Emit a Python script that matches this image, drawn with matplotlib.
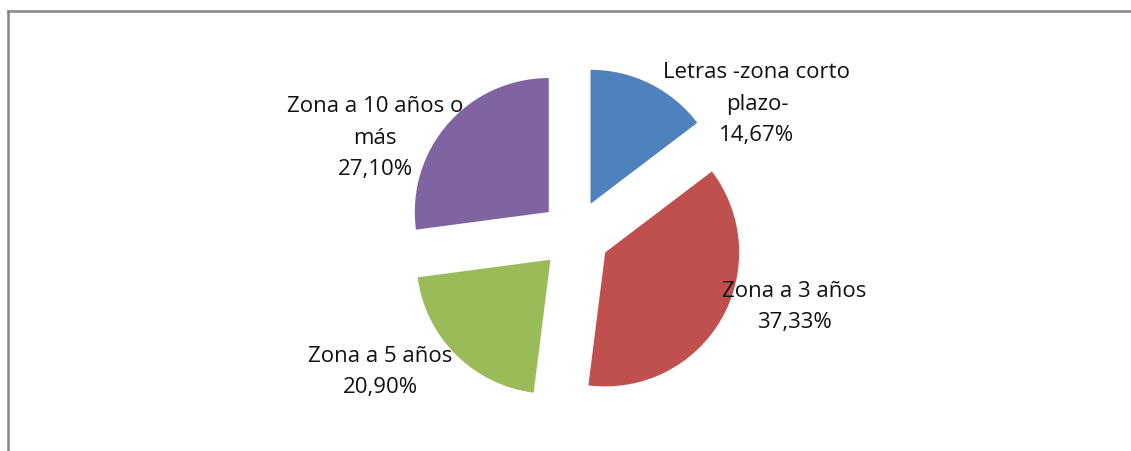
import matplotlib
matplotlib.use("Agg")
import matplotlib.pyplot as plt
from matplotlib.lines import Line2D

categories = ["Letras -zona corto\nplazo-", "Zona a 3 años", "Zona a 5 años", "Zona a 10 años o\nmás"]
values = [14.67, 37.33, 20.90, 27.10]
pct_labels = ["14,67%", "37,33%", "20,90%", "27,10%"]

colors = ["#4F81BD", "#C0504D", "#9BBB59", "#8064A2"]
label_pos = [(1.358, 0.985), (1.635, -0.530), (-1.455, -1.015), (-1.493, 0.731)]

W, H = 1131, 452
R = 134.0
cx, cy = 575.0, 236.0

fig = plt.figure(figsize=(W / 100, H / 100), dpi=100)
ax = fig.add_axes([0, 0, 1, 1])
ax.pie(values, colors=colors, startangle=90, counterclock=False,
       explode=[0.26] * 4, radius=1.0,
       wedgeprops=dict(linewidth=0))
ax.set_xlim(-cx / R, (W - cx) / R)
ax.set_ylim(-(H - cy) / R, cy / R)
ax.set_aspect("auto")
ax.axis("off")

for cat, pct, (x, y) in zip(categories, pct_labels, label_pos):
    ax.text(x, y, cat + "\n" + pct, ha="center", va="center",
            fontsize=16, family=["Open Sans", "DejaVu Sans"], color="#111111",
            linespacing=1.65)

# figure border (only top and left visible)
fig.add_artist(Line2D([7.5 / W, 7.5 / W], [0, 1 - 12 / H], transform=fig.transFigure,
                      color="#868686", linewidth=1.8))
fig.add_artist(Line2D([7.5 / W, 1], [1 - 12 / H, 1 - 12 / H], transform=fig.transFigure,
                      color="#868686", linewidth=1.8))

fig.savefig("out.png", dpi=100)
